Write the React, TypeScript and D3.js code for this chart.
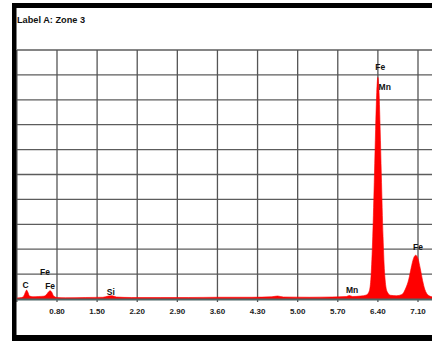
import React from 'react';
import * as d3 from 'd3';

// EDS spectrum: energy (keV) and height in grid units
const energies = [
  0.10, 0.18, 0.22, 0.25, 0.27, 0.29, 0.32, 0.38, 0.48, 0.56, 0.61, 0.65, 0.68, 0.71, 0.74, 0.80,
  0.95, 1.30, 1.60, 1.70, 1.76, 1.84, 2.10, 2.60, 3.10, 3.60, 4.20, 4.55, 4.65, 4.75, 5.20, 5.60,
  5.85, 5.90, 5.96, 6.10, 6.20, 6.25, 6.28, 6.31, 6.34, 6.36, 6.38, 6.40, 6.42, 6.44, 6.46, 6.49,
  6.52, 6.56, 6.62, 6.72, 6.82, 6.88, 6.94, 6.98, 7.02, 7.06, 7.10, 7.14, 7.18, 7.22, 7.28, 7.36,
];
const counts = [
  0.04, 0.06, 0.12, 0.28, 0.36, 0.28, 0.12, 0.09, 0.10, 0.11, 0.16, 0.28, 0.33, 0.27, 0.12, 0.06,
  0.05, 0.06, 0.07, 0.12, 0.13, 0.08, 0.06, 0.06, 0.06, 0.07, 0.07, 0.09, 0.12, 0.08, 0.07, 0.08,
  0.10, 0.14, 0.10, 0.12, 0.16, 0.32, 0.90, 2.50, 5.00, 6.80, 8.30, 8.90, 8.30, 6.80, 5.00, 2.50,
  0.95, 0.30, 0.15, 0.13, 0.18, 0.40, 0.80, 1.24, 1.62, 1.76, 1.62, 1.22, 0.74, 0.38, 0.15, 0.08,
];

// x grid lines and tick labels
const gridEnergies = [0.1, 0.8, 1.5, 2.2, 2.9, 3.6, 4.3, 5.0, 5.7, 6.4, 7.1];
const tickLabels = ['0.80', '1.50', '2.20', '2.90', '3.60', '4.30', '5.00', '5.70', '6.40', '7.10'];

// peak labels: text, energy, height
const peakNames = ['C', 'Fe', 'Fe', 'Si', 'Mn', 'Fe', 'Mn', 'Fe'];
const peakEnergies = [0.25, 0.59, 0.68, 1.74, 5.95, 6.44, 6.52, 7.10];
const peakHeights = [0.44, 0.96, 0.40, 0.16, 0.24, 9.2, 8.4, 1.97];

const W = 432;
const H = 341;
const plot = { left: 17, top: 50, bottom: 299 };

export default function App() {
  const x = d3.scaleLinear().domain([0.8, 7.1]).range([57, 418]);
  const y = d3.scaleLinear().domain([0, 10]).range([plot.bottom, plot.top]);

  const pts = energies.map((e, i) => [e, counts[i]] as [number, number]);
  const area = d3.area<[number, number]>()
    .x(d => x(d[0]))
    .y0(y(0))
    .y1(d => y(d[1]))
    .curve(d3.curveMonotoneX);

  const hLines = d3.range(1, 11);
  const font = 'Liberation Sans, Arial, sans-serif';

  return (
    <svg width={W} height={H} style={{ position: 'absolute', left: 0, top: 0, background: '#fff' }}>
      <defs>
        <clipPath id="plotClip">
          <rect x={plot.left} y={0} width={W - plot.left} height={plot.bottom + 1} />
        </clipPath>
      </defs>

      <text x={17} y={23} fontFamily={font} fontWeight="bold" fontSize={9.2} fill="#111">Label A: Zone 3</text>

      {/* grid */}
      {hLines.map(v => (
        <line key={'h' + v} x1={plot.left} x2={W} y1={y(v)} y2={y(v)} stroke="#5c5c5c" strokeWidth={1.3} />
      ))}
      {gridEnergies.map(e => (
        <line key={'v' + e} x1={x(e)} x2={x(e)} y1={plot.top} y2={plot.bottom + 3} stroke="#555" strokeWidth={1.3} />
      ))}

      {/* spectrum */}
      <path d={area(pts) ?? ''} fill="#ff0000" stroke="#ff0000" strokeWidth={0.6} clipPath="url(#plotClip)" />

      {/* axis */}
      <line x1={plot.left} x2={W} y1={plot.bottom + 0.5} y2={plot.bottom + 0.5} stroke="#4f6766" strokeWidth={1.8} />

      {tickLabels.map(t => (
        <text key={t} x={x(+t)} y={314} textAnchor="middle" fontFamily={font}
          fontWeight="bold" fontSize={8} fill="#222">{t}</text>
      ))}

      {peakNames.map((n, i) => (
        <text key={'p' + i} x={x(peakEnergies[i])} y={y(peakHeights[i])} textAnchor="middle"
          fontFamily={font} fontWeight="bold" fontSize={8.5} fill="#111">{n}</text>
      ))}

      {/* black frame */}
      <rect x={12} y={3} width={W - 12} height={5} fill="#000" />
      <rect x={12} y={3} width={4.5} height={H - 3} fill="#000" />
      <rect x={12} y={335} width={W - 12} height={6} fill="#000" />
    </svg>
  );
}
